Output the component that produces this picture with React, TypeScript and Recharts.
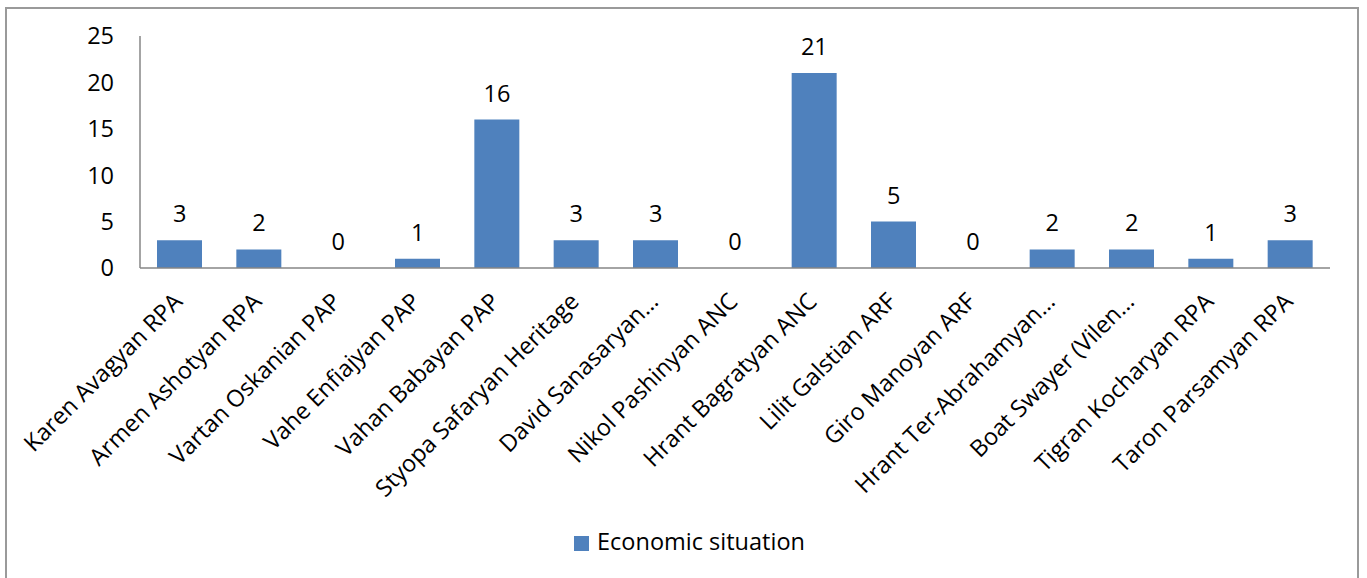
import React from 'react';
import { ComposedChart, Bar, Line, XAxis, YAxis, Legend, LabelList } from 'recharts';

const candidates = [
  'Karen Avagyan RPA',
  'Armen Ashotyan RPA',
  'Vartan Oskanian PAP',
  'Vahe Enfiajyan PAP',
  'Vahan Babayan PAP',
  'Styopa Safaryan Heritage',
  'David Sanasaryan…',
  'Nikol Pashinyan ANC',
  'Hrant Bagratyan ANC',
  'Lilit Galstian ARF',
  'Giro Manoyan ARF',
  'Hrant Ter-Abrahamyan…',
  'Boat Swayer (Vilen…',
  'Tigran Kocharyan RPA',
  'Taron Parsamyan RPA',
];

const economicSituation = [3, 2, 0, 1, 16, 3, 3, 0, 21, 5, 0, 2, 2, 1, 3];

const yTicks = [0, 5, 10, 15, 20, 25];

const data = candidates.map((name, i) => ({ name, value: economicSituation[i] }));

const FONT = '"Open Sans", sans-serif';
const FS = 23.5;

const AngledTick = (props: any) => {
  const { x, y, payload } = props;
  return (
    <g transform={`translate(${x + 4},${y + 35})`}>
      <text
        x={0}
        y={0}
        transform="rotate(-45)"
        textAnchor="end"
        fill="#000"
        fontSize={FS}
        fontFamily={FONT}
      >
        {payload.value}
      </text>
    </g>
  );
};

export default function App() {
  return (
    <div
      style={{
        position: 'absolute',
        left: 5,
        top: 7,
        width: 1354,
        height: 580,
        border: '2px solid #9a9a9a',
        boxSizing: 'border-box',
        background: '#fff',
        fontFamily: FONT,
      }}
    >
      <ComposedChart
        width={1350}
        height={569}
        data={data}
        margin={{ top: 27, right: 27, left: 0, bottom: 0 }}
      >
        <XAxis
          dataKey="name"
          interval={0}
          tickLine={false}
          tickSize={0}
          tickMargin={0}
          height={278}
          axisLine={{ stroke: '#868686', strokeWidth: 1.5 }}
          tick={<AngledTick />}
        />
        <YAxis
          width={133}
          domain={[0, 25]}
          ticks={yTicks}
          tickLine={false}
          tickMargin={20}
          axisLine={{ stroke: '#868686', strokeWidth: 1.5 }}
          tick={{ fill: '#000', fontSize: FS, fontFamily: FONT }}
        />
        <Legend
          verticalAlign="bottom"
          iconType="square"
          iconSize={15}
          wrapperStyle={{ fontSize: FS, fontFamily: FONT, top: 516, bottom: 'auto', left: 26 }}
          formatter={(v: any) => <span style={{ color: '#000', marginLeft: 4 }}>{v}</span>}
        />
        <Bar
          dataKey="value"
          name="Economic situation"
          fill="#4F81BD"
          barSize={45}
          isAnimationActive={false}
        />
        <Line
          dataKey="value"
          stroke="none"
          dot={false}
          activeDot={false}
          legendType="none"
          isAnimationActive={false}
        >
          <LabelList
            dataKey="value"
            position="top"
            offset={18}
            fill="#000"
            fontSize={FS}
            fontFamily={FONT}
          />
        </Line>
      </ComposedChart>
    </div>
  );
}
